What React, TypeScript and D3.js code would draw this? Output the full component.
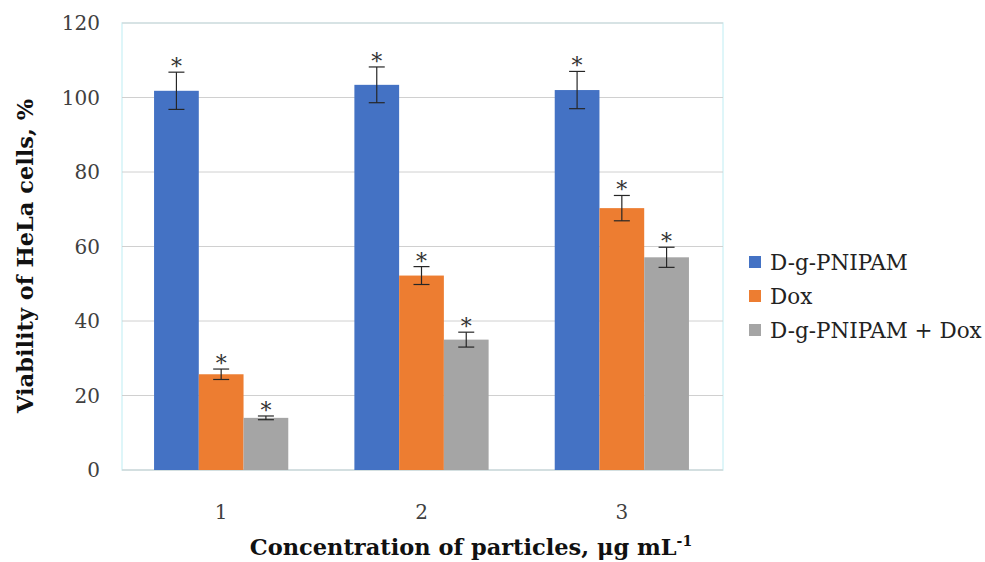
import React from "react";
import * as d3 from "d3";

const categories = ["1", "2", "3"];
const seriesNames = ["D-g-PNIPAM", "Dox", "D-g-PNIPAM + Dox"];
const seriesColors = ["#4472C4", "#ED7D31", "#A5A5A5"];
const viabilityPnipam = [101.8, 103.4, 102.0];
const viabilityDox = [25.7, 52.2, 70.3];
const viabilityCombo = [14.0, 35.0, 57.1];
const errPnipam = [5.0, 4.8, 5.0];
const errDox = [1.4, 2.4, 3.4];
const errCombo = [0.5, 2.0, 2.7];
const yTicks = [0, 20, 40, 60, 80, 100, 120];

const values = [viabilityPnipam, viabilityDox, viabilityCombo];
const errors = [errPnipam, errDox, errCombo];

const W = 985;
const H = 562;
const serif = "'DejaVu Serif', 'Liberation Serif', serif";

export default function App() {
  const plotL = 122, plotR = 723, plotT = 23, plotB = 470;
  const y = d3.scaleLinear().domain([0, 120]).range([plotB, plotT]);
  const x0 = d3.scaleBand<string>().domain(categories).range([plotL - 1, plotR - 1]).paddingInner(0.33).paddingOuter(0.165);
  const x1 = d3.scaleBand<string>().domain(seriesNames).range([0, x0.bandwidth()]).padding(0);

  return (
    <svg width={W} height={H} style={{ position: "absolute", left: 0, top: 0, background: "#fff" }}>
      <rect x={plotL} y={plotT} width={plotR - plotL} height={plotB - plotT} fill="none" stroke="#d4f3f7" strokeWidth={1.5} />
      {yTicks.map((t) => (
        <line key={t} x1={plotL} x2={plotR} y1={y(t)} y2={y(t)} stroke={t === 0 ? "#c8c8c8" : "#d0d0d0"} strokeWidth={1} />
      ))}
      {yTicks.map((t) => (
        <text key={"l" + t} x={100} y={y(t)} dy="0.35em" textAnchor="end" fontFamily={serif} fontSize={20} fill="#404040">
          {t}
        </text>
      ))}
      {categories.map((c, ci) => (
        <g key={c} transform={`translate(${x0(c)},0)`}>
          {seriesNames.map((s, si) => {
            const v = values[si][ci];
            const e = errors[si][ci];
            const bx = x1(s)!;
            const bw = x1.bandwidth();
            const cx = bx + bw / 2;
            return (
              <g key={s}>
                <rect x={bx} y={y(v)} width={bw} height={plotB - y(v)} fill={seriesColors[si]} />
                <line x1={cx} x2={cx} y1={y(v + e)} y2={y(v - e)} stroke="#262626" strokeWidth={1.2} />
                <line x1={cx - 8} x2={cx + 8} y1={y(v + e)} y2={y(v + e)} stroke="#262626" strokeWidth={1.2} />
                <line x1={cx - 8} x2={cx + 8} y1={y(v - e)} y2={y(v - e)} stroke="#262626" strokeWidth={1.2} />
                <text x={cx} y={y(v + e) + 2} textAnchor="middle" fontFamily={serif} fontSize={22} fill="#333">*</text>
              </g>
            );
          })}
        </g>
      ))}
      {categories.map((c) => (
        <text key={"x" + c} x={x0(c)! + x0.bandwidth() / 2} y={519} textAnchor="middle" fontFamily={serif} fontSize={20} fill="#404040">
          {c}
        </text>
      ))}
      <text x={471} y={555} textAnchor="middle" fontFamily={serif} fontSize={22.5} fontWeight="bold" fill="#111">
        Concentration of particles, μg mL<tspan dy={-9} fontSize={14}>-1</tspan>
      </text>
      <text transform="translate(33,256) rotate(-90)" textAnchor="middle" fontFamily={serif} fontSize={22.5} fontWeight="bold" fill="#111">
        Viability of HeLa cells, %
      </text>
      {seriesNames.map((s, i) => (
        <g key={"lg" + s} transform={`translate(749,${262 + i * 34})`}>
          <rect x={0} y={-6} width={12} height={12} fill={seriesColors[i]} />
          <text x={21} y={0} dy="0.35em" fontFamily={serif} fontSize={21.5} fill="#222">{s}</text>
        </g>
      ))}
    </svg>
  );
}
